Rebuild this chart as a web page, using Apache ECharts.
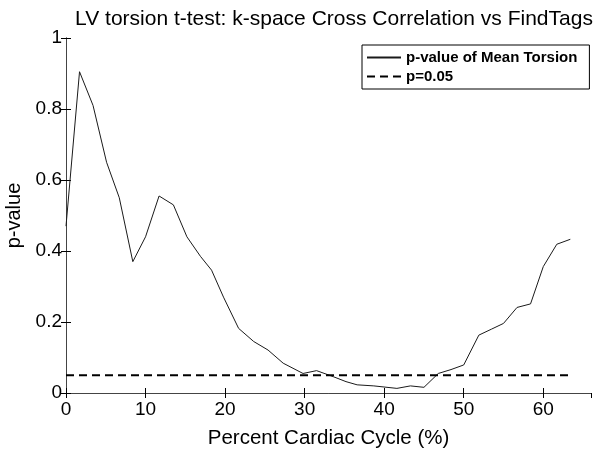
<!DOCTYPE html>
<html>
<head>
<meta charset="utf-8">
<script src="https://cdn.jsdelivr.net/npm/echarts@6/dist/echarts.min.js"></script>
<style>html,body{margin:0;padding:0;background:#fff}#c{width:600px;height:452px}</style>
</head>
<body>
<div id="c"></div>
<script>
var titleText = 'LV torsion t-test: k-space Cross Correlation vs FindTags';
var xName = 'Percent Cardiac Cycle (%)';
var yName = 'p-value';
var seriesNames = ['p-value of Mean Torsion', 'p=0.05'];
var cyclePct = [0, 1.7, 3.4, 5.1, 6.7, 8.4, 10.0, 11.7, 13.5, 15.2, 16.9, 18.3, 19.8, 21.7, 23.6, 25.4, 27.3, 29.8, 31.5, 33.6, 35.2, 36.6, 38.7, 41.6, 43.3, 45.0, 46.8, 48.4, 50.0, 51.9, 53.5, 55.0, 56.7, 58.4, 60.0, 61.7, 63.4];
var pValues = [0.47, 0.905, 0.81, 0.65, 0.55, 0.37, 0.44, 0.555, 0.53, 0.44, 0.385, 0.346, 0.27, 0.182, 0.145, 0.121, 0.084, 0.055, 0.063, 0.046, 0.032, 0.023, 0.02, 0.013, 0.02, 0.016, 0.055, 0.066, 0.079, 0.163, 0.18, 0.196, 0.241, 0.251, 0.356, 0.419, 0.433];
var threshX = [0, 63.4];
var threshY = [0.05, 0.05];

var font = 'Liberation Sans, Arial, Helvetica, sans-serif';
var chart = echarts.init(document.getElementById('c'));
var baseAxis = {
  axisLine: {show: true, lineStyle: {color: '#444', width: 1}},
  axisTick: {show: true, inside: true, length: 5, lineStyle: {color: '#000'}},
  splitLine: {show: false}
};
chart.setOption({
  animation: false,
  title: {text: titleText, left: 329, textAlign: 'center', top: 4, textStyle: {fontFamily: font, fontSize: 21, fontWeight: 'normal', color: '#000'}},
  grid: {left: 66, right: 9, top: 38, bottom: 59, outerBoundsMode: 'none', containLabel: false},
  legend: {
    orient: 'vertical', left: 362, top: 45,
    padding: [5, 12, 5, 4], itemGap: 4,
    borderColor: '#000', borderWidth: 1, backgroundColor: '#fff',
    itemWidth: 34, itemHeight: 14,
    itemStyle: {opacity: 0, borderWidth: 0},
    data: seriesNames,
    textStyle: {fontFamily: font, fontSize: 15, fontWeight: 'bold', color: '#000', width: 178, overflow: 'truncate', ellipsis: ''}
  },
  xAxis: [
    Object.assign({}, baseAxis, {type: 'value', min: 0, max: 66, interval: 10, position: 'bottom',
      axisLabel: {showMaxLabel: false, fontFamily: font, fontSize: 19, color: '#000', margin: 7},
      name: xName, nameLocation: 'middle', nameGap: 35,
      nameTextStyle: {fontFamily: font, fontSize: 20.5, color: '#000'}}),
    Object.assign({}, baseAxis, {type: 'value', min: 0, max: 66, interval: 10, position: 'top',
      axisLabel: {show: false}})
  ],
  yAxis: [
    Object.assign({}, baseAxis, {type: 'value', min: 0, max: 1, interval: 0.2, position: 'left',
      axisLabel: {fontFamily: font, fontSize: 19, color: '#000', margin: 4},
      name: yName, nameLocation: 'middle', nameGap: 41,
      nameTextStyle: {fontFamily: font, fontSize: 20, color: '#000'}}),
    Object.assign({}, baseAxis, {type: 'value', min: 0, max: 1, interval: 0.2, position: 'right',
      axisLabel: {show: false}})
  ],
  series: [
    {name: seriesNames[0], type: 'line', symbol: 'none', xAxisIndex: 0, yAxisIndex: 0,
      lineStyle: {color: '#1a1a1a', width: 1}, itemStyle: {color: '#1a1a1a'},
      data: cyclePct.map(function (x, i) { return [x, pValues[i]]; })},
    {name: seriesNames[1], type: 'line', symbol: 'none', xAxisIndex: 0, yAxisIndex: 0,
      lineStyle: {color: '#000', width: 2, type: [8, 5]}, itemStyle: {color: '#000'},
      data: threshX.map(function (x, i) { return [x, threshY[i]]; })}
  ]
});
</script>
</body>
</html>
